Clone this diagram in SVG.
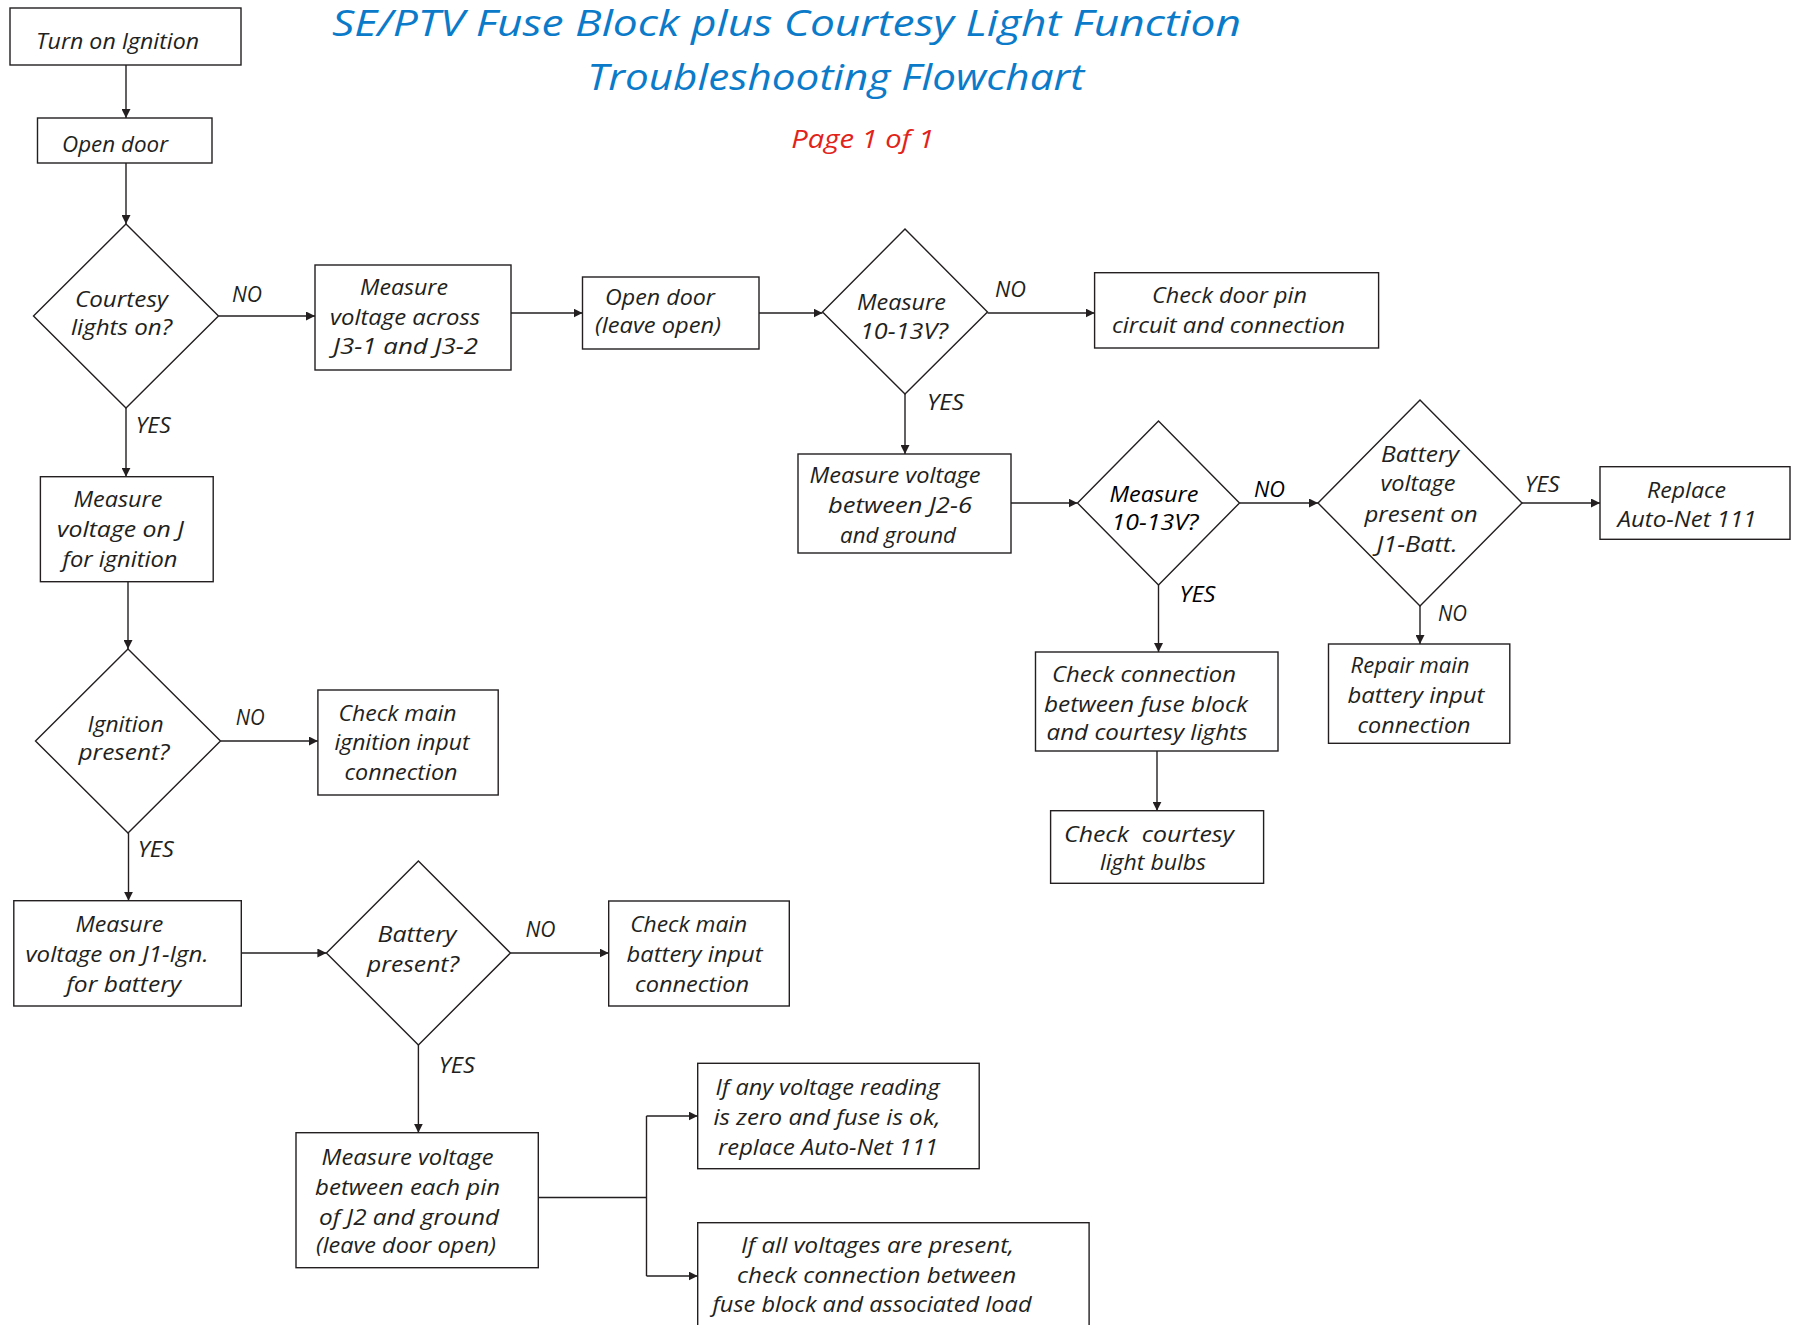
<svg xmlns="http://www.w3.org/2000/svg" width="1794" height="1325" viewBox="0 0 1794 1325">
<defs>
<marker id="ah" viewBox="0 0 10 10" refX="10" refY="5" markerWidth="9" markerHeight="9" markerUnits="userSpaceOnUse" orient="auto">
<path d="M0,0 L10,5 L0,10 Z" fill="#231f20"/>
</marker>
<style>
.n rect,.n polygon{fill:#fff;stroke:#231f20;stroke-width:1.4}
.n text{font-family:"Open Sans","Liberation Sans",sans-serif;font-style:italic;font-size:22px;fill:#231f20;text-anchor:middle}
.c line,.c polyline{stroke:#231f20;stroke-width:1.4;fill:none}
.c .a{marker-end:url(#ah)}
.lbl text{font-family:"Open Sans","Liberation Sans",sans-serif;font-style:italic;font-size:21px;fill:#231f20}
.t{font-family:"Open Sans","Liberation Sans",sans-serif;font-style:italic;text-anchor:middle}
</style>
</defs>
<rect width="1794" height="1325" fill="#fff"/>

<g id="title">
<text class="t" x="786.5" y="36" font-size="36" fill="#0b7bc9" textLength="909" lengthAdjust="spacingAndGlyphs">SE/PTV Fuse Block plus Courtesy Light Function</text>
<text class="t" x="835.7" y="90" font-size="36" fill="#0b7bc9" textLength="497" lengthAdjust="spacingAndGlyphs">Troubleshooting Flowchart</text>
<text class="t" x="862.8" y="148" font-size="25" fill="#e2231a" textLength="143" lengthAdjust="spacingAndGlyphs">Page 1 of 1</text>
</g>

<g class="c" id="connectors">
<line class="a" x1="126" y1="65" x2="126" y2="118"/>
<line class="a" x1="126" y1="163" x2="126" y2="224"/>
<line class="a" x1="218.5" y1="316" x2="315" y2="316"/>
<line class="a" x1="126" y1="408" x2="126" y2="476.7"/>
<line class="a" x1="511" y1="313" x2="582.5" y2="313"/>
<line class="a" x1="759" y1="313" x2="822.5" y2="313"/>
<line class="a" x1="987.5" y1="313" x2="1094.6" y2="313"/>
<line class="a" x1="905" y1="394" x2="905" y2="454"/>
<line class="a" x1="1011" y1="503" x2="1077.5" y2="503"/>
<line class="a" x1="1239.5" y1="503" x2="1318" y2="503"/>
<line class="a" x1="1522" y1="503" x2="1600" y2="503"/>
<line class="a" x1="1158.5" y1="585" x2="1158.5" y2="652"/>
<line class="a" x1="1157" y1="751" x2="1157" y2="810.7"/>
<line class="a" x1="1420" y1="606" x2="1420" y2="644"/>
<line class="a" x1="128" y1="581.7" x2="128" y2="649"/>
<line class="a" x1="220.5" y1="741" x2="317.9" y2="741"/>
<line class="a" x1="128.5" y1="833" x2="128.5" y2="900.7"/>
<line class="a" x1="241.3" y1="953" x2="326.4" y2="953"/>
<line class="a" x1="510.4" y1="953" x2="608.7" y2="953"/>
<line class="a" x1="418.4" y1="1045" x2="418.4" y2="1132.7"/>
<line x1="538.3" y1="1197.5" x2="646.5" y2="1197.5"/>
<line x1="646.5" y1="1116" x2="646.5" y2="1276"/>
<line class="a" x1="646.5" y1="1116" x2="697.7" y2="1116"/>
<line class="a" x1="646.5" y1="1276" x2="697.7" y2="1276"/>
</g>

<g class="lbl" id="labels">
<text x="232" y="302" textLength="30" lengthAdjust="spacingAndGlyphs">NO</text>
<text x="135.7" y="433.3" textLength="35" lengthAdjust="spacingAndGlyphs">YES</text>
<text x="995" y="297" textLength="31" lengthAdjust="spacingAndGlyphs">NO</text>
<text x="927" y="410" textLength="37" lengthAdjust="spacingAndGlyphs">YES</text>
<text x="1254" y="496.7" textLength="31" lengthAdjust="spacingAndGlyphs" style="fill:#000">NO</text>
<text x="1524.7" y="491.7" textLength="35" lengthAdjust="spacingAndGlyphs">YES</text>
<text x="1179.5" y="601.7" textLength="36" lengthAdjust="spacingAndGlyphs" style="fill:#000">YES</text>
<text x="1438" y="621" textLength="29" lengthAdjust="spacingAndGlyphs">NO</text>
<text x="235.7" y="725" textLength="29" lengthAdjust="spacingAndGlyphs">NO</text>
<text x="137.8" y="856.7" textLength="36" lengthAdjust="spacingAndGlyphs">YES</text>
<text x="525.5" y="936.7" textLength="30" lengthAdjust="spacingAndGlyphs">NO</text>
<text x="438.8" y="1073.3" textLength="36" lengthAdjust="spacingAndGlyphs">YES</text>
</g>

<g class="n" id="turn-on-ignition">
<rect x="10" y="8" width="231" height="57"/>
<text x="117.5" y="49" textLength="163" lengthAdjust="spacingAndGlyphs">Turn on Ignition</text>
</g>

<g class="n" id="open-door">
<rect x="37.5" y="118" width="174.5" height="45"/>
<text x="115" y="152" textLength="106" lengthAdjust="spacingAndGlyphs">Open door</text>
</g>

<g class="n" id="courtesy-lights-on">
<polygon points="126,224 218.5,316 126,408 33.5,316"/>
<text x="121.5" y="307" textLength="93" lengthAdjust="spacingAndGlyphs">Courtesy</text>
<text x="121.5" y="335" textLength="101" lengthAdjust="spacingAndGlyphs">lights on?</text>
</g>

<g class="n" id="measure-across">
<rect x="315" y="265" width="196" height="105"/>
<text x="404" y="295" textLength="88" lengthAdjust="spacingAndGlyphs">Measure</text>
<text x="405" y="325" textLength="150" lengthAdjust="spacingAndGlyphs">voltage across</text>
<text x="405.5" y="354" textLength="145" lengthAdjust="spacingAndGlyphs">J3-1 and J3-2</text>
</g>

<g class="n" id="open-door-leave-open">
<rect x="582.5" y="277" width="176.5" height="72"/>
<text x="660" y="305" textLength="110" lengthAdjust="spacingAndGlyphs">Open door</text>
<text x="658" y="333" textLength="126" lengthAdjust="spacingAndGlyphs">(leave open)</text>
</g>

<g class="n" id="measure-10-13v-a">
<polygon points="905,229 987.5,312 905,394 822.5,312"/>
<text x="901.5" y="310" textLength="89" lengthAdjust="spacingAndGlyphs">Measure</text>
<text x="904" y="339" textLength="88" lengthAdjust="spacingAndGlyphs">10-13V?</text>
</g>

<g class="n" id="check-door-pin">
<rect x="1094.6" y="272.7" width="284" height="75.3"/>
<text x="1229.5" y="303" textLength="155" lengthAdjust="spacingAndGlyphs">Check door pin</text>
<text x="1228.5" y="333" textLength="233" lengthAdjust="spacingAndGlyphs">circuit and connection</text>
</g>

<g class="n" id="measure-j2-6">
<rect x="798" y="454" width="213" height="99"/>
<text x="895" y="483" textLength="171" lengthAdjust="spacingAndGlyphs">Measure voltage</text>
<text x="900" y="513" textLength="144" lengthAdjust="spacingAndGlyphs">between J2-6</text>
<text x="898" y="543" textLength="116" lengthAdjust="spacingAndGlyphs">and ground</text>
</g>

<g class="n" id="measure-10-13v-b">
<polygon points="1158.5,421 1239.5,503 1158.5,585 1077.5,503"/>
<text x="1154" y="501.7" textLength="89" lengthAdjust="spacingAndGlyphs" style="fill:#000">Measure</text>
<text x="1155" y="530" textLength="87" lengthAdjust="spacingAndGlyphs" style="fill:#000">10-13V?</text>
</g>

<g class="n" id="battery-voltage-j1">
<polygon points="1420,400 1522,503 1420,606 1318,503"/>
<text x="1420" y="461.7" textLength="78" lengthAdjust="spacingAndGlyphs">Battery</text>
<text x="1418" y="490.7" textLength="75" lengthAdjust="spacingAndGlyphs">voltage</text>
<text x="1421" y="521.7" textLength="113" lengthAdjust="spacingAndGlyphs">present on</text>
<text x="1417" y="551.7" textLength="81" lengthAdjust="spacingAndGlyphs">J1-Batt.</text>
</g>

<g class="n" id="replace-autonet">
<rect x="1600" y="466.7" width="190" height="72.6"/>
<text x="1686.5" y="498" textLength="79" lengthAdjust="spacingAndGlyphs">Replace</text>
<text x="1687" y="527.3" textLength="139" lengthAdjust="spacingAndGlyphs">Auto-Net 111</text>
</g>

<g class="n" id="check-connection-lights">
<rect x="1035.5" y="652" width="242.5" height="99"/>
<text x="1144" y="681.7" textLength="184" lengthAdjust="spacingAndGlyphs">Check connection</text>
<text x="1146" y="711.7" textLength="204" lengthAdjust="spacingAndGlyphs">between fuse block</text>
<text x="1147" y="740" textLength="201" lengthAdjust="spacingAndGlyphs">and courtesy lights</text>
</g>

<g class="n" id="check-bulbs">
<rect x="1050.6" y="810.7" width="213" height="72.6"/>
<text x="1149" y="841.7" textLength="170" lengthAdjust="spacingAndGlyphs" xml:space="preserve">Check  courtesy</text>
<text x="1153" y="870" textLength="106" lengthAdjust="spacingAndGlyphs">light bulbs</text>
</g>

<g class="n" id="repair-battery-input">
<rect x="1328.5" y="644" width="181.3" height="99.3"/>
<text x="1410" y="673.3" textLength="119" lengthAdjust="spacingAndGlyphs">Repair main</text>
<text x="1416" y="703.3" textLength="137" lengthAdjust="spacingAndGlyphs">battery input</text>
<text x="1414" y="733.3" textLength="113" lengthAdjust="spacingAndGlyphs">connection</text>
</g>

<g class="n" id="measure-j-ignition">
<rect x="40.4" y="476.7" width="172.8" height="105"/>
<text x="118" y="507.3" textLength="89" lengthAdjust="spacingAndGlyphs">Measure</text>
<text x="120.5" y="536.7" textLength="127" lengthAdjust="spacingAndGlyphs">voltage on J</text>
<text x="120" y="566.7" textLength="115" lengthAdjust="spacingAndGlyphs">for ignition</text>
</g>

<g class="n" id="ignition-present">
<polygon points="128,649 220.5,741 128,833 35.5,741"/>
<text x="125.5" y="731.7" textLength="76" lengthAdjust="spacingAndGlyphs">Ignition</text>
<text x="124" y="760" textLength="91" lengthAdjust="spacingAndGlyphs">present?</text>
</g>

<g class="n" id="check-ignition-input">
<rect x="317.9" y="690" width="180.3" height="105"/>
<text x="397.5" y="720.7" textLength="118" lengthAdjust="spacingAndGlyphs">Check main</text>
<text x="402" y="750" textLength="135" lengthAdjust="spacingAndGlyphs">ignition input</text>
<text x="401" y="780" textLength="113" lengthAdjust="spacingAndGlyphs">connection</text>
</g>

<g class="n" id="measure-j1-ign">
<rect x="13.8" y="900.7" width="227.5" height="105.3"/>
<text x="119.4" y="931.7" textLength="88" lengthAdjust="spacingAndGlyphs">Measure</text>
<text x="117" y="961.7" textLength="183" lengthAdjust="spacingAndGlyphs">voltage on J1-Ign.</text>
<text x="123.7" y="991.7" textLength="115" lengthAdjust="spacingAndGlyphs">for battery</text>
</g>

<g class="n" id="battery-present">
<polygon points="418.4,861 510.4,953 418.4,1045 326.4,953"/>
<text x="417" y="941.7" textLength="79" lengthAdjust="spacingAndGlyphs">Battery</text>
<text x="413" y="971.7" textLength="92" lengthAdjust="spacingAndGlyphs">present?</text>
</g>

<g class="n" id="check-battery-input">
<rect x="608.7" y="901" width="180.6" height="105"/>
<text x="688.7" y="931.7" textLength="117" lengthAdjust="spacingAndGlyphs">Check main</text>
<text x="694.6" y="961.7" textLength="136" lengthAdjust="spacingAndGlyphs">battery input</text>
<text x="692" y="991.7" textLength="114" lengthAdjust="spacingAndGlyphs">connection</text>
</g>

<g class="n" id="measure-each-pin">
<rect x="296" y="1132.7" width="242.3" height="135"/>
<text x="407.6" y="1165" textLength="172" lengthAdjust="spacingAndGlyphs">Measure voltage</text>
<text x="407.6" y="1195" textLength="185" lengthAdjust="spacingAndGlyphs">between each pin</text>
<text x="409" y="1225" textLength="180" lengthAdjust="spacingAndGlyphs">of J2 and ground</text>
<text x="406" y="1253.3" textLength="180" lengthAdjust="spacingAndGlyphs">(leave door open)</text>
</g>

<g class="n" id="if-any-zero">
<rect x="697.7" y="1063.3" width="281.5" height="105.4"/>
<text x="827.6" y="1095" textLength="224" lengthAdjust="spacingAndGlyphs">If any voltage reading</text>
<text x="827" y="1125" textLength="227" lengthAdjust="spacingAndGlyphs">is zero and fuse is ok,</text>
<text x="828" y="1155" textLength="220" lengthAdjust="spacingAndGlyphs">replace Auto-Net 111</text>
</g>

<g class="n" id="if-all-present">
<rect x="697.7" y="1222.7" width="391.4" height="130"/>
<text x="877.6" y="1253.3" textLength="273" lengthAdjust="spacingAndGlyphs">If all voltages are present,</text>
<text x="876.6" y="1282.7" textLength="279" lengthAdjust="spacingAndGlyphs">check connection between</text>
<text x="872" y="1311.7" textLength="319" lengthAdjust="spacingAndGlyphs">fuse block and associated load</text>
</g>
</svg>
